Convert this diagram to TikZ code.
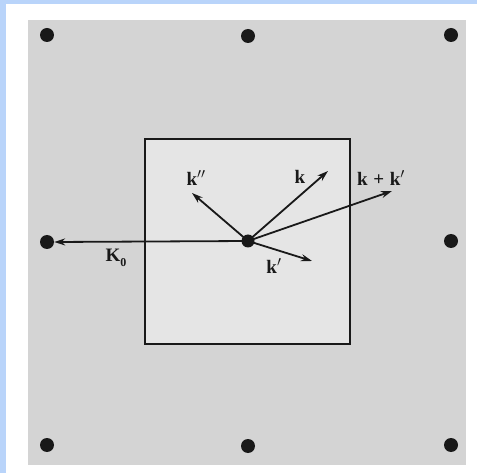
\documentclass[tikz,border=0pt]{standalone}
\usepackage{fontspec}
\setmainfont{Liberation Serif}
\usetikzlibrary{arrows.meta}
\definecolor{bluebg}{RGB}{185,212,250}
\definecolor{outergray}{RGB}{212,212,212}
\definecolor{innergray}{RGB}{229,229,229}
\definecolor{ink}{RGB}{25,25,25}
\tikzset{
  lattice/.style={circle,fill=ink,inner sep=0pt,minimum size=14pt},
  center/.style={circle,fill=ink,inner sep=0pt,minimum size=13pt},
  vec/.style={draw=ink,line width=1.8pt,-{Stealth[length=11pt,width=7pt]}},
  lbl/.style={font=\fontsize{19}{22}\selectfont\bfseries,text=ink,inner sep=0pt}
}
\begin{document}
\begin{tikzpicture}[x=1pt,y=-1pt]
\useasboundingbox (0,0) rectangle (477,473);
\fill[bluebg] (0,0) rectangle (477,473);
\fill[white] (6,4) rectangle (477,473);
\fill[outergray] (28,20) rectangle (466,465);
\draw[ink,line width=1.5pt,fill=innergray] (145,139) rectangle (350,344);
% lattice points
\node[lattice] (p1) at (47,35) {};
\node[lattice] (p2) at (248,36) {};
\node[lattice] (p3) at (451,35) {};
\node[lattice] (p4) at (47,242) {};
\node[lattice] (p5) at (451,241) {};
\node[lattice] (p6) at (47,445) {};
\node[lattice] (p7) at (248,446) {};
\node[lattice] (p8) at (451,445) {};
\node[center] (o) at (248,241) {};
\coordinate (ekpp) at (192,193);
\coordinate (ek) at (328,171);
\coordinate (ekk) at (392,191);
\coordinate (ekp) at (312,261);
\draw[vec] (o.center) -- (p4.east);
\draw[vec] (o.center) -- (ekpp);
\draw[vec] (o.center) -- (ek);
\draw[vec] (o.center) -- (ekk);
\draw[vec] (o.center) -- (ekp);
\node[lbl] (lK) at (116,258) {K\raisebox{-0.25em}{\fontsize{12}{14}\selectfont 0}};
\node[lbl] (lkpp) at (196,178) {k$''$};
\node[lbl] (lk) at (300,177) {k};
\node[lbl] (lkk) at (381,178) {k\hspace{0.3em}+\hspace{0.3em}k$'$};
\node[lbl] (lkp) at (274,266) {k$'$};
\end{tikzpicture}
\end{document}
